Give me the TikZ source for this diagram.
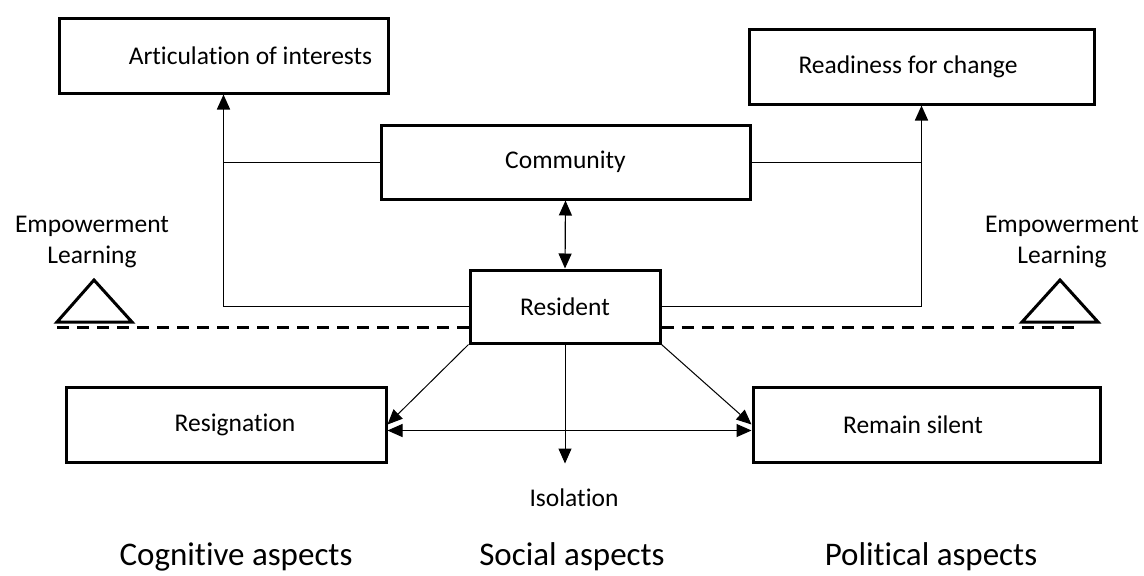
\documentclass[tikz,border=0pt]{standalone}
\usepackage{fontspec}
\setmainfont{Carlito}[RawFeature={-liga;-clig}]
\usepackage{tikz}
\usetikzlibrary{arrows.meta,positioning,calc}

\begin{document}
\begin{tikzpicture}[x=1pt, y=-1pt, >={Triangle[length=15pt,width=13pt]},
  aspbox/.style={draw, line width=3pt, minimum height=75pt, inner sep=0pt, font=\fontsize{25.5pt}{30pt}\selectfont},
  lbl/.style={align=center, font=\fontsize{25.5pt}{31pt}\selectfont},
  aspect/.style={font=\fontsize{33pt}{38pt}\selectfont},
  conn/.style={line width=1pt},
  tri/.style={line width=3pt, line join=miter},
  base/.style={line width=3pt, dash pattern=on 12pt off 8pt}]
  \useasboundingbox (0,0) rectangle (1144,576);
  % boxes
  \node[aspbox, minimum width=329pt](art) at (223.5,55.5){\hspace*{54pt}Articulation of interests};
  \node[aspbox, minimum width=345pt](rdy) at (921.5,66.5){Readiness for change\hspace*{27pt}};
  \node[aspbox, minimum width=369pt, minimum height=74pt](com) at (565.5,162){Community};
  \node[aspbox, minimum width=190pt, minimum height=73pt](res) at (565,306.5){Resident};
  \node[aspbox, minimum width=320pt](rsg) at (226,424.5){\hspace*{18pt}Resignation};
  \node[aspbox, minimum width=347pt](sil) at (926.5,424.5){Remain silent\hspace*{27pt}};
  \node[lbl](iso) at (574,498){Isolation};
  \node[lbl](empl) at (92,242){Empowerment\\Learning};
  \node[lbl](empr) at (1062,242){Empowerment\\Learning};
  \node[aspect](cog) at (236,557){Cognitive aspects};
  \node[aspect](soc) at (572,557){Social aspects};
  \node[aspect](pol) at (931,557){Political aspects};
  % balance line and triangles
  \coordinate (bl) at (57,327);
  \coordinate (br) at (1080,327);
  \draw[base] (bl) -- (bl -| res.west);
  \draw[base] (res.east |- br) -- (br);
  \draw[tri] (57,322) -- (94,280) -- (132,322) -- cycle;
  \draw[tri] (1022,322) -- (1060,280) -- (1098,322) -- cycle;
  % connectors
  \draw[->, line width=1.6pt](res.west) -| (art.south);
  \draw[conn](com.west) -- (com.west -| art.south);
  \draw[->, line width=1.6pt](res.east) -| (rdy.south);
  \draw[conn](com.east) -- (com.east -| rdy.south);
  \draw[<->, line width=1.2pt](com.south) -- (res.north);
  \draw[->, conn](res.south west) -- (rsg.east);
  \draw[->, conn](res.south east) -- (sil.west);
  \draw[->, conn, shorten >=22pt](res.south) -- (res.south |- iso.north);
  \draw[<->, conn]([yshift=-6pt]rsg.east) -- ([yshift=-6pt]sil.west);
\end{tikzpicture}
\end{document}
